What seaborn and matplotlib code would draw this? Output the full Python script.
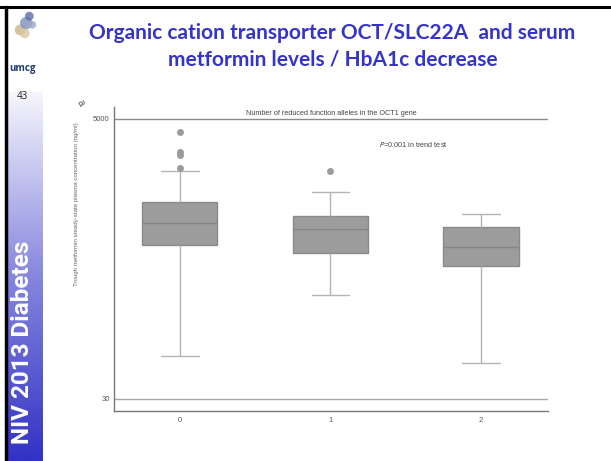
import numpy as np
import pandas as pd
import matplotlib
matplotlib.use("Agg")
import matplotlib.pyplot as plt
import seaborn as sns

# box stats (ng/ml): low whisker, Q1, median, Q3, high whisker
alleles = ["0", "1", "2"]
whisker_low = [66, 200, 58]
q1 = [500, 434, 342]
median = [743, 670, 485]
q3 = [1090, 855, 690]
whisker_high = [1920, 1325, 886]
outlier_group = ["0", "0", "0", "0", "1"]
outlier_value = [3970, 2750, 2590, 2050, 1920]

rows = []
for i, a in enumerate(alleles):
    for v in (whisker_low[i], q1[i], median[i], q3[i], whisker_high[i]):
        rows.append({"alleles": a, "conc": v})
df = pd.DataFrame(rows)
out = pd.DataFrame({"alleles": outlier_group, "conc": outlier_value})

sns.set_style("white")
plt.rcParams["font.family"] = ["Liberation Sans", "DejaVu Sans"]

fig = plt.figure(figsize=(6.11, 4.61), dpi=100)

# slide frame
fig.add_artist(plt.Line2D([0.0, 1.0], [0.985, 0.985], color="black", lw=2.2, transform=fig.transFigure))
fig.add_artist(plt.Line2D([0.010, 0.010], [0.0, 0.985], color="black", lw=2.5, transform=fig.transFigure))

# left gradient band
band = fig.add_axes([0.013, 0.0, 0.056, 0.80])
grad = np.linspace(0, 1, 256)[:, None]
cmap = matplotlib.colors.LinearSegmentedColormap.from_list("band", ["#3232c6", "#8686de", "#f6f6fc"])
band.imshow(grad, aspect="auto", cmap=cmap, origin="lower", extent=[0, 1, 0, 1])
band.set_axis_off()
fig.text(0.037, 0.258, "NIV 2013 Diabetes", rotation=90, color="white", fontsize=17.5,
         fontweight="bold", ha="center", va="center",
         family=["Liberation Sans Narrow", "Roboto", "DejaVu Sans"])
fig.text(0.036, 0.79, "43", fontsize=7, ha="center", va="center", color="#222222",
         family=["Open Sans", "DejaVu Sans"])
fig.text(0.036, 0.852, "umcg", fontsize=7, ha="center", va="center", color="#1f3a6e",
         fontweight="bold", family=["Open Sans", "DejaVu Sans"])

# small logo stand-in
logo = fig.add_axes([0.018, 0.905, 0.05, 0.075])
logo.scatter([0.3, 0.5, 0.6, 0.45, 0.7], [0.4, 0.6, 0.8, 0.3, 0.55], s=[60, 80, 40, 50, 30],
             c=["#c9b48a", "#7d8fb8", "#5a6fa8", "#d8c7a0", "#9aa8c8"], alpha=0.8, linewidths=0)
logo.set_xlim(0, 1)
logo.set_ylim(0, 1)
logo.set_axis_off()

# slide title
title_kw = dict(color="#3434c8", fontsize=15, fontweight="bold", ha="center", va="center",
                family=["Lato", "DejaVu Sans"])
fig.text(0.544, 0.928, "Organic cation transporter OCT/SLC22A  and serum", **title_kw)
fig.text(0.544, 0.870, "metformin levels / HbA1c decrease", **title_kw)

# chart
ax = fig.add_axes([0.1866, 0.1085, 0.7103, 0.6594])
box_color = "#9c9c9c"
sns.boxplot(data=df, x="alleles", y="conc", order=alleles, whis=(0, 100), width=0.5,
            color=box_color, linecolor="#8a8a8a", linewidth=1.0, showfliers=False,
            log_scale=True, ax=ax,
            whiskerprops={"color": "#b4b4b4", "linewidth": 1.0},
            capprops={"color": "#b4b4b4", "linewidth": 1.0},
            medianprops={"color": "#858585", "linewidth": 1.0},
            boxprops={"facecolor": box_color, "edgecolor": "#8a8a8a"})
for patch in ax.patches:
    patch.set_facecolor(box_color)
sns.stripplot(data=out, x="alleles", y="conc", order=alleles, jitter=False, color="#9a9a9a",
              size=5, ax=ax, native_scale=False)

ax.set_yscale("log")
ax.set_ylim(24.1, 6225)
ax.set_xlim(-0.436, 2.444)
ax.axhline(5000, color="#8a8a8a", lw=1.0)
ax.axhline(30, color="#a8a8a8", lw=1.0)
ax.set_yticks([30, 5000])
ax.set_yticklabels(["30", "5000"])
ax.yaxis.set_minor_locator(matplotlib.ticker.NullLocator())
ax.tick_params(axis="y", labelsize=5.5, labelcolor="#555555", length=0, pad=3)
ax.tick_params(axis="x", labelsize=5.5, labelcolor="#555555", length=0, pad=4)
ax.set_xlabel("")
ax.set_ylabel("")
for s in ("top", "right"):
    ax.spines[s].set_visible(False)
for s in ("left", "bottom"):
    ax.spines[s].set_color("#777777")
    ax.spines[s].set_linewidth(1.0)

ax.text(0.5, 0.98, "Number of reduced function alleles in the OCT1 gene", transform=ax.transAxes,
        ha="center", va="center", fontsize=5.2, color="#444444")
ax.text(0.61, 0.877, "$\\it{P}$=0.001 in trend test", transform=ax.transAxes,
        ha="left", va="center", fontsize=5.2, color="#444444")

fig.text(0.125, 0.558, "Trough metformin steady-state plasma concentration (ng/ml)", rotation=90,
         ha="center", va="center", fontsize=4.4, color="#666666")
fig.text(0.132, 0.778, "a", rotation=-60, ha="center", va="center", fontsize=7, color="#555555")

fig.savefig("out.png", dpi=100)
